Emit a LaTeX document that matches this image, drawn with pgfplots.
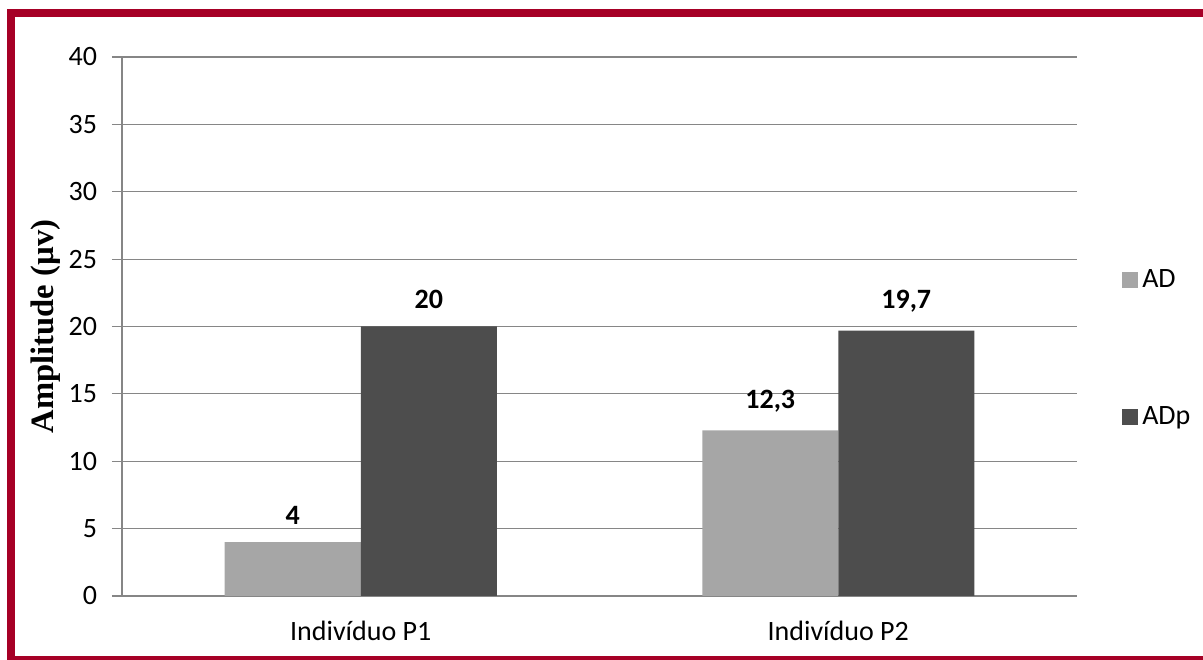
\documentclass[border=0pt]{standalone}
\usepackage{pgfplots}
\pgfplotsset{compat=1.18}
\usepackage{pgfplotstable}
\usepackage{fontspec}
\setmainfont{Carlito}
\newfontfamily\timesb{Liberation Serif}
\definecolor{frame}{RGB}{166,0,38}
\definecolor{adlight}{RGB}{166,166,166}
\definecolor{addark}{RGB}{77,77,77}
\definecolor{axgray}{RGB}{134,134,134}

\pgfplotstableread{
x y label
0 4 4
1 12.3 12,3
}\ad
\pgfplotstableread{
x y label
0 20 20
1 19.7 19,7
}\adp

\begin{document}
\begin{tikzpicture}
\useasboundingbox (0,0) rectangle (601.5bp,330bp);
% moldura
\fill[frame] (3.5bp,0) rectangle (7.5bp,325.5bp);
\fill[frame] (3.5bp,321.5bp) rectangle (601.5bp,325.5bp);
\fill[frame] (3.5bp,0) rectangle (601.5bp,2bp);
\begin{axis}[
  at={(61bp,32bp)}, anchor=south west,
  scale only axis,
  width=477.5bp, height=269.5bp,
  ybar=0pt, bar width=68bp,
  xmin=-0.5, xmax=1.5,
  ymin=0, ymax=40,
  xtick={0,1},
  xticklabels={Indivíduo P1,Indivíduo P2},
  ytick={0,5,...,40},
  axis x line*=bottom, axis y line*=left,
  axis line style={axgray, line width=0.6pt},
  ymajorgrids, grid style={axgray, line width=0.6pt},
  x tick style={draw=none},
  y tick style={axgray, line width=0.6pt},
  tick align=outside, major tick length=5bp,
  /pgf/number format/assume math mode=true,
  tick label style={font=\fontsize{14bp}{16bp}\selectfont, black},
  yticklabel style={xshift=-4bp},
  xticklabel style={yshift=-4bp},
  ylabel={\timesb\bfseries Amplitude (µv)},
  ylabel style={at={(axis description cs:-0.08,0.5)}, anchor=center,
    font=\fontsize{16.3bp}{19bp}\selectfont},
  nodes near coords,
  point meta=explicit symbolic,
  nodes near coords style={font=\fontsize{14bp}{16bp}\selectfont\bfseries, anchor=south, yshift=5.5bp},
  legend image code/.code={\fill[#1] (0bp,-4bp) rectangle (8bp,4bp);},
  legend style={draw=none, fill=none, at={(axis description cs:1.047,0.46)},
    anchor=west, row sep=54bp, font=\fontsize{14bp}{16bp}\selectfont,
    cells={anchor=west}, inner sep=0pt},
]
\addplot[fill=adlight, draw=none] table[x=x, y=y, meta=label] {\ad};
\addplot[fill=addark, draw=none] table[x=x, y=y, meta=label] {\adp};
\legend{AD,ADp}
\end{axis}
\end{tikzpicture}
\end{document}
